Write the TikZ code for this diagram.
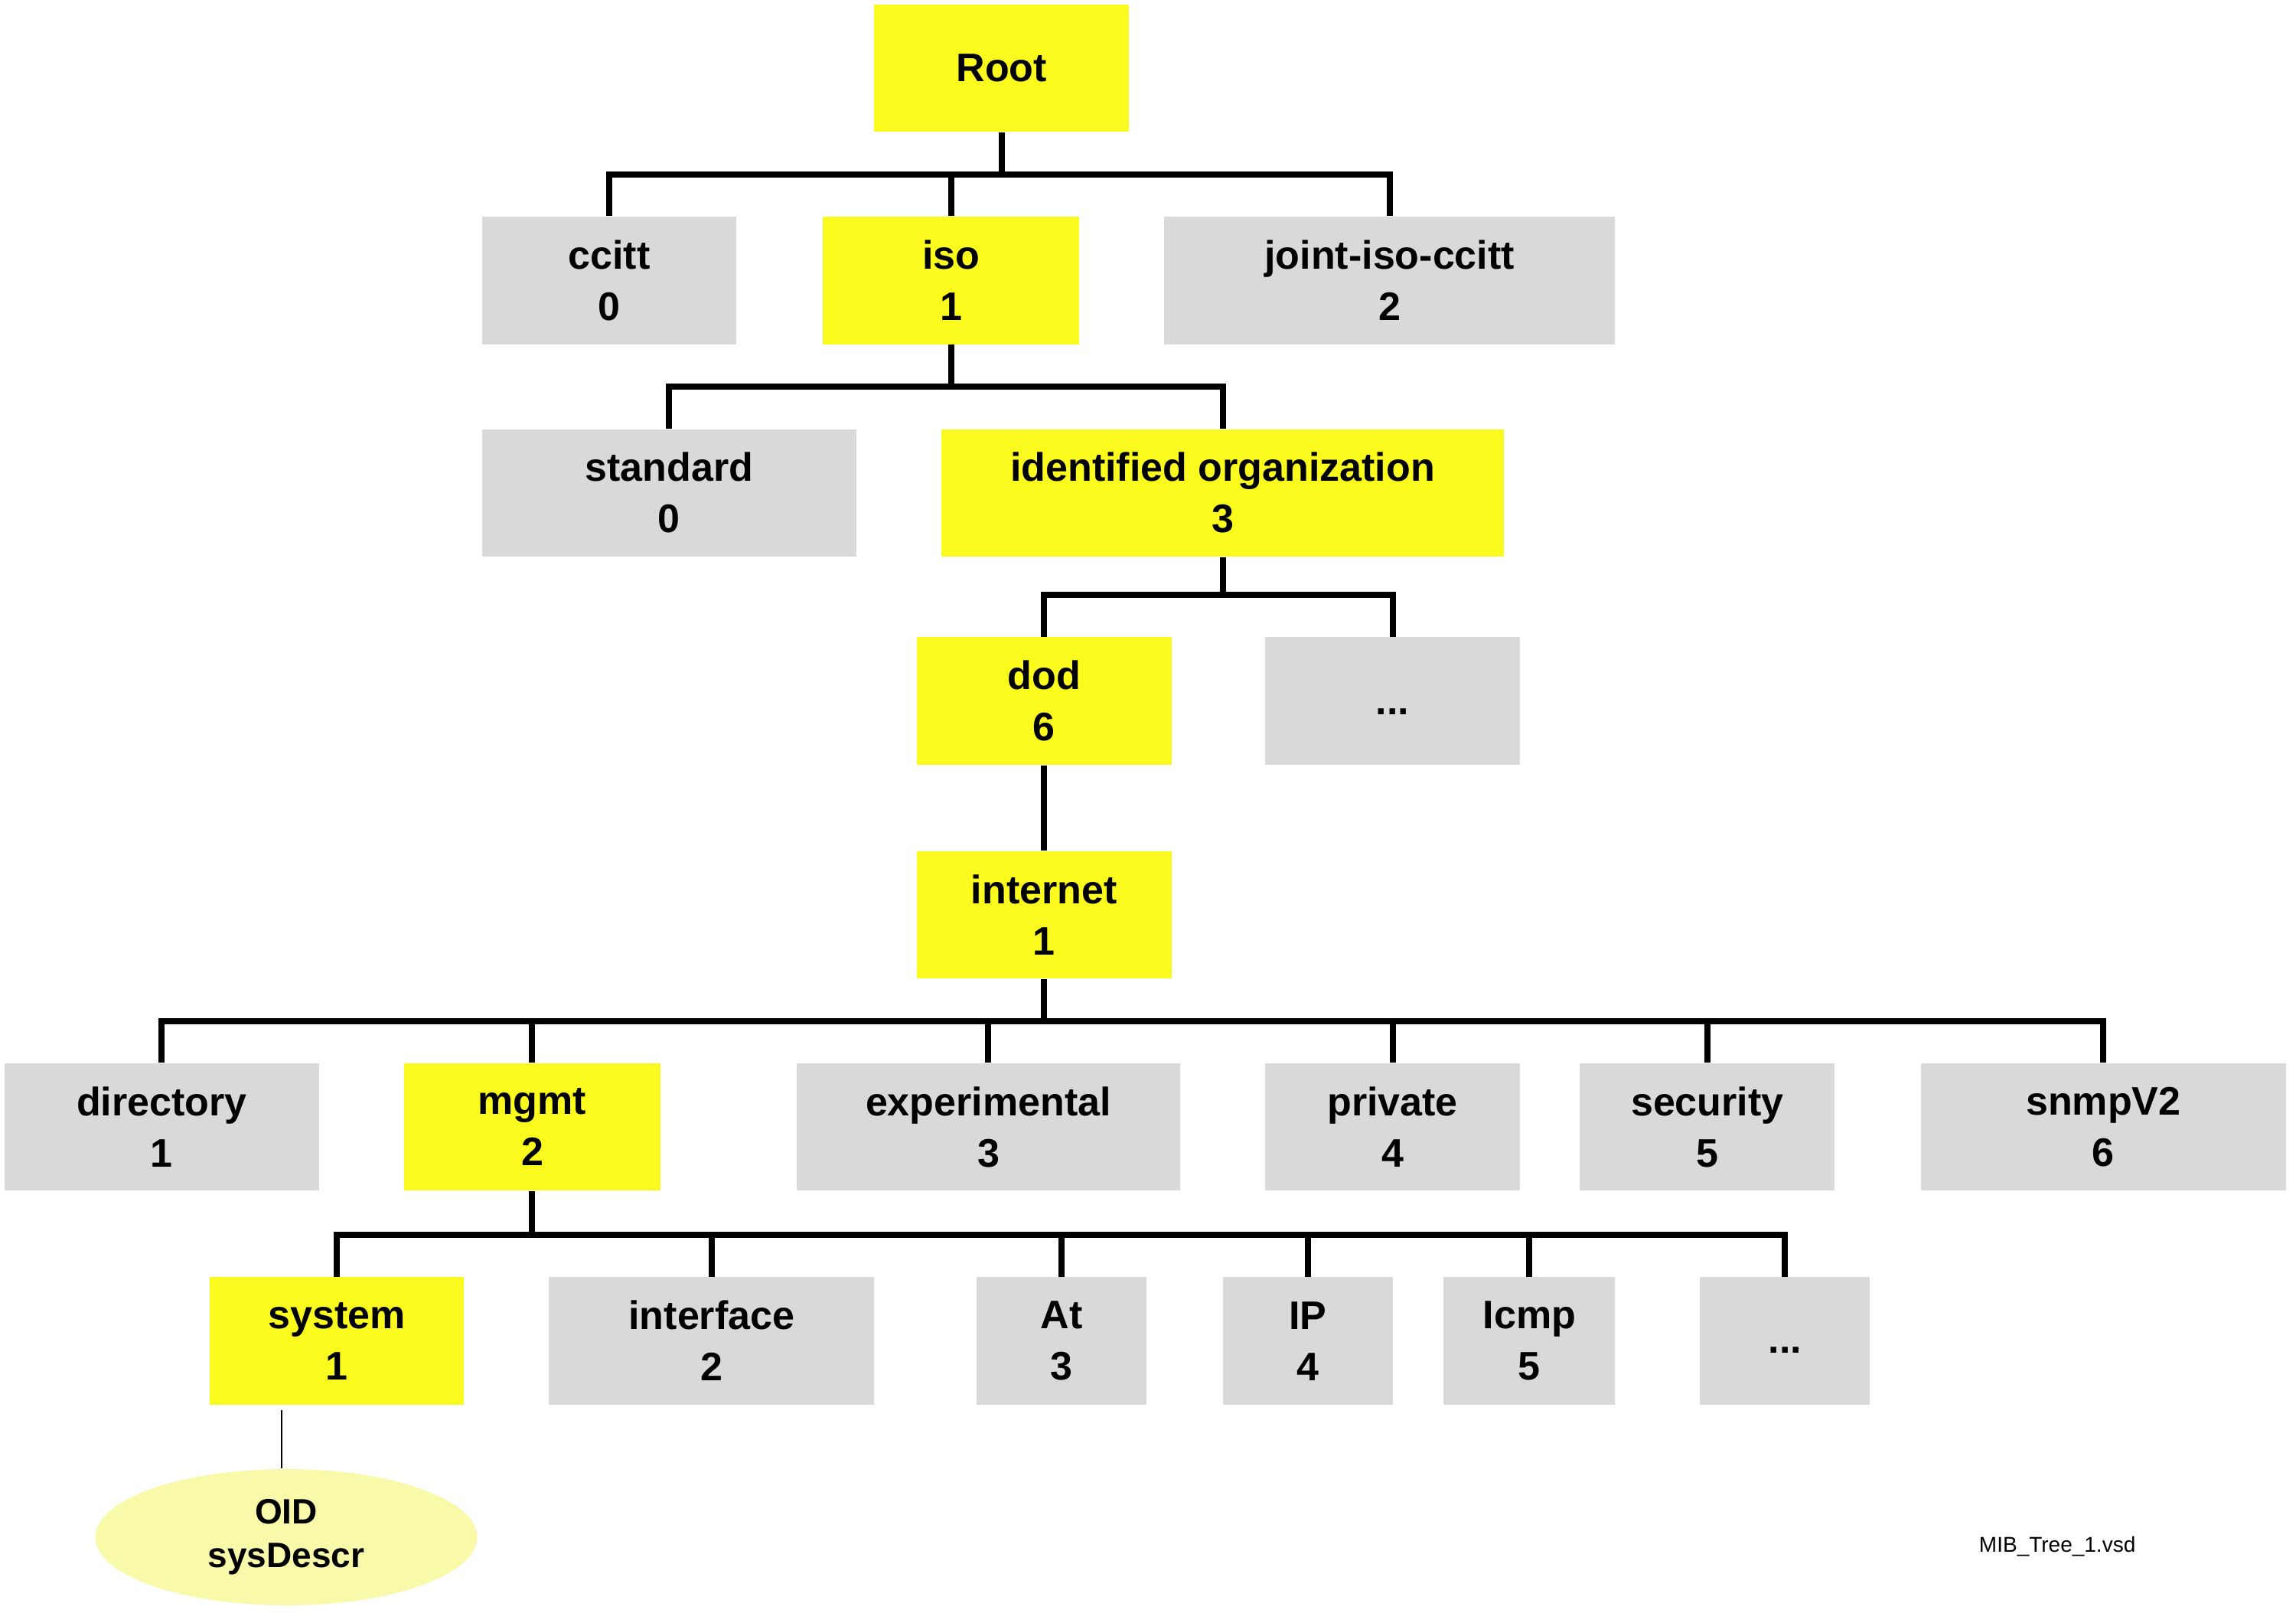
\documentclass[tikz,border=0pt]{standalone}
\usepackage{fontspec}
\setmainfont{Liberation Sans}
\usetikzlibrary{shapes.geometric}
\definecolor{ybox}{RGB}{250,250,30}
\definecolor{gbox}{RGB}{217,216,218}
\definecolor{pale}{RGB}{249,249,170}
\tikzset{
  basebox/.style={rectangle, minimum height=41.6pt, inner sep=0pt, align=center,
    font=\bfseries\fontsize{13}{16.75}\selectfont},
  yb/.style={basebox, fill=ybox},
  gb/.style={basebox, fill=gbox},
  bus/.style={line width=2pt, line join=miter},
  thinline/.style={line width=0.55pt}
}
\begin{document}
\begin{tikzpicture}[x=0.47832pt, y=-0.47832pt]
\useasboundingbox (0,0) rectangle (1568,1101);
% level 0
\node[yb, minimum width=83.2pt] (root) at (684,46.5) {Root};
% level 1
\node[gb, minimum width=83.2pt] (ccitt) at (416,191.5) {ccitt\\0};
\node[yb, minimum width=83.7pt] (iso) at (649.5,191.5) {iso\\1};
\node[gb, minimum width=147.3pt] (joint) at (949,191.5) {joint-iso-ccitt\\2};
% level 2
\node[gb, minimum width=122.4pt] (standard) at (457,336.5) {standard\\0};
\node[yb, minimum width=183.7pt] (idorg) at (835,336.5) {identified organization\\3};
% level 3
\node[yb, minimum width=83.2pt] (dod) at (713,478.5) {dod\\6};
\node[gb, minimum width=83.2pt] (dotsa) at (951,478.5) {\raisebox{-3.5pt}[\height][\depth]{...}};
% level 4
\node[yb, minimum width=83.2pt] (internet) at (713,624.5) {internet\\1};
% level 5
\node[gb, minimum width=102.8pt] (directory) at (110.5,769.5) {directory\\1};
\node[yb, minimum width=83.7pt] (mgmt) at (363.5,769.5) {mgmt\\2};
\node[gb, minimum width=125.3pt] (experimental) at (675,769.5) {experimental\\3};
\node[gb, minimum width=83.2pt] (private) at (951,769.5) {private\\4};
\node[gb, minimum width=83.2pt] (security) at (1166,769.5) {security\\5};
\node[gb, minimum width=119.1pt] (snmp) at (1436.5,769.5) {snmpV2\\6};
% level 6
\node[yb, minimum width=83.2pt] (system) at (230,915.5) {system\\1};
\node[gb, minimum width=106.2pt] (interface) at (486,915.5) {interface\\2};
\node[gb, minimum width=55.5pt] (at) at (725,915.5) {At\\3};
\node[gb, minimum width=55.5pt] (ip) at (893,915.5) {IP\\4};
\node[gb, minimum width=56pt] (icmp) at (1044.5,915.5) {Icmp\\5};
\node[gb, minimum width=55.5pt] (dotsb) at (1219,915.5) {\raisebox{-3pt}[\height][\depth]{...}};
% OID ellipse
\node[ellipse, fill=pale, minimum width=124.8pt, minimum height=44.5pt, inner sep=0pt, align=center,
  font=\bfseries\fontsize{11.5}{14.3}\selectfont] (oid) at (195.5,1049.5) {OID\\sysDescr};
% file label
\node[font=\fontsize{7}{8}\selectfont, inner sep=0pt] (fname) at (1405,1056) {MIB\_Tree\_1.vsd};

% bus coordinates
\coordinate (b1) at (0,119);
\coordinate (b2) at (0,264);
\coordinate (b3) at (0,406);
\coordinate (b5) at (0,697);
\coordinate (b6) at (0,843);

% level 0 -> 1
\draw[bus] (root.south) -- (root.south |- b1);
\draw[bus] (ccitt.north) -- (ccitt.north |- b1) -- (joint.north |- b1) -- (joint.north);
\draw[bus] (iso.north) -- (iso.north |- b1);
% level 1 -> 2
\draw[bus] (iso.south) -- (iso.south |- b2);
\draw[bus] (standard.north) -- (standard.north |- b2) -- (idorg.north |- b2) -- (idorg.north);
% level 2 -> 3
\draw[bus] (idorg.south) -- (idorg.south |- b3);
\draw[bus] (dod.north) -- (dod.north |- b3) -- (dotsa.north |- b3) -- (dotsa.north);
% level 3 -> 4
\draw[bus] (dod.south) -- (internet.north);
% level 4 -> 5
\draw[bus] (internet.south) -- (internet.south |- b5);
\draw[bus] (directory.north) -- (directory.north |- b5) -- (snmp.north |- b5) -- (snmp.north);
\foreach \n in {mgmt, experimental, private, security}
  \draw[bus] (\n.north) -- (\n.north |- b5);
% level 5 -> 6
\draw[bus] (mgmt.south) -- (mgmt.south |- b6);
\draw[bus] (system.north) -- (system.north |- b6) -- (dotsb.north |- b6) -- (dotsb.north);
\foreach \n in {interface, at, ip, icmp}
  \draw[bus] (\n.north) -- (\n.north |- b6);
% system -> OID
\draw[thinline] (oid.north -| 192.5,0) -- ([yshift=-1.5pt]system.south -| 192.5,0);
\end{tikzpicture}
\end{document}
